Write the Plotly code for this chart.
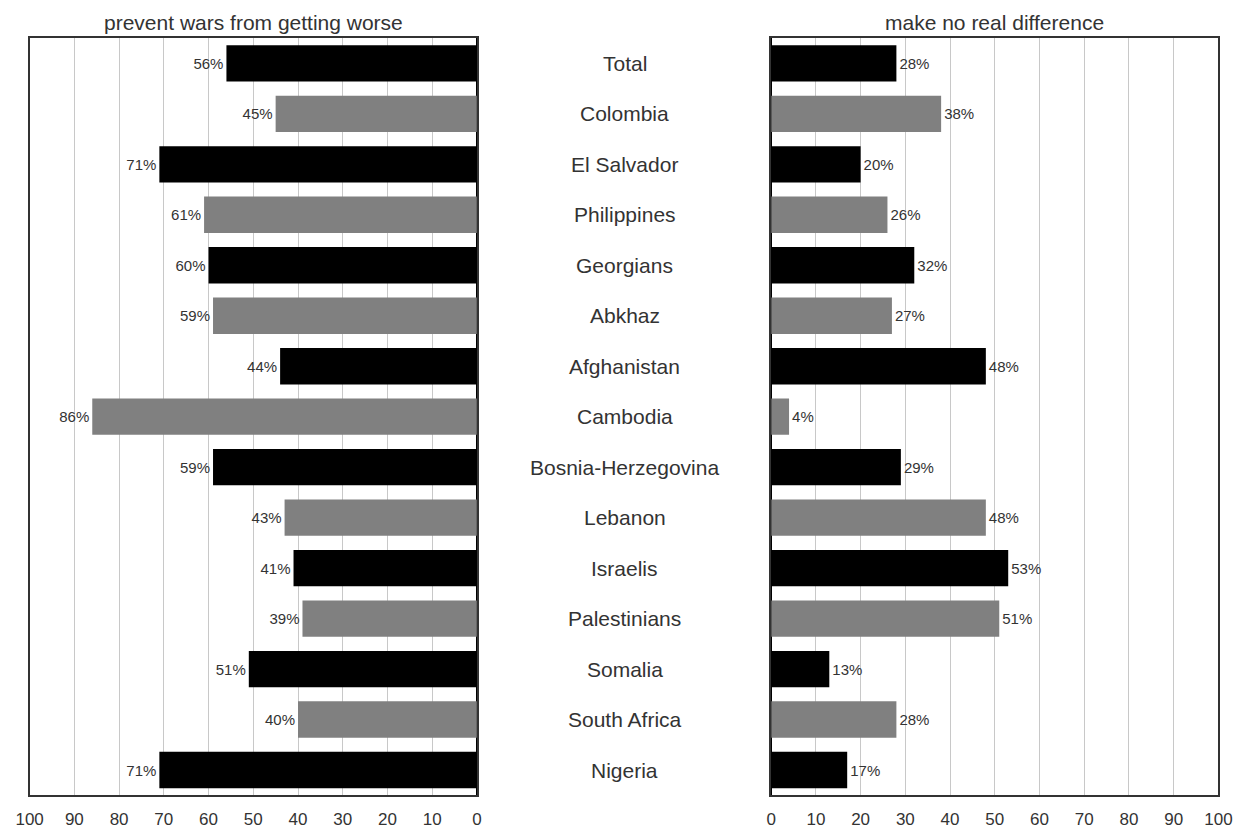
import plotly.graph_objects as go

categories = ["Total", "Colombia", "El Salvador", "Philippines", "Georgians", "Abkhaz",
              "Afghanistan", "Cambodia", "Bosnia-Herzegovina", "Lebanon", "Israelis",
              "Palestinians", "Somalia", "South Africa", "Nigeria"]
prevent_worse = [56, 45, 71, 61, 60, 59, 44, 86, 59, 43, 41, 39, 51, 40, 71]
no_difference = [28, 38, 20, 26, 32, 27, 48, 4, 29, 48, 53, 51, 13, 28, 17]
bar_colors = ["#000000" if i % 2 == 0 else "#808080" for i in range(len(categories))]
tick_vals = [0, 10, 20, 30, 40, 50, 60, 70, 80, 90, 100]
titles = ["prevent wars from getting worse", "make no real difference"]

W, H = 1251, 829
FONT = "Liberation Sans, Arial, sans-serif"

fig = go.Figure()
fig.add_trace(go.Bar(
    y=categories, x=prevent_worse, orientation="h", xaxis="x", yaxis="y",
    marker=dict(color=bar_colors, line=dict(width=0)), width=0.72,
    text=[f"{v}%" for v in prevent_worse], textposition="outside",
    textfont=dict(size=15, color="#333333", family=FONT), cliponaxis=False,
    showlegend=False))
fig.add_trace(go.Bar(
    y=categories, x=no_difference, orientation="h", xaxis="x2", yaxis="y2",
    marker=dict(color=bar_colors, line=dict(width=0)), width=0.72,
    text=[f"{v}%" for v in no_difference], textposition="outside",
    textfont=dict(size=15, color="#333333", family=FONT), cliponaxis=False,
    showlegend=False))

x1d = [16 / W, 473.5 / W]
x2d = [774.5 / W, 1232 / W]
yd = [1 - 803 / H, 1 - 38.5 / H]

axis_common = dict(
    tickvals=tick_vals, showgrid=True, gridcolor="#c8c8c8", gridwidth=1,
    showline=True, linecolor="#333333", linewidth=1.5, mirror=True,
    zeroline=True, zerolinecolor="#000000", zerolinewidth=2,
    ticks="", ticklabelstandoff=8,
    tickfont=dict(size=17, color="#333333", family=FONT), fixedrange=True)

fig.update_layout(
    autosize=True, margin=dict(l=0, r=0, t=0, b=0),
    paper_bgcolor="white", plot_bgcolor="white",
    font=dict(family=FONT, color="#333333"),
    xaxis=dict(domain=x1d, range=[100, 0], **axis_common),
    xaxis2=dict(domain=x2d, range=[0, 100], **axis_common),
    yaxis=dict(domain=yd, anchor="x", range=[14.5, -0.5], showticklabels=False,
               showgrid=False, showline=True, linecolor="#333333", linewidth=1.5,
               mirror=True, ticks="", categoryorder="array", categoryarray=categories,
               fixedrange=True),
    yaxis2=dict(domain=yd, anchor="x2", range=[14.5, -0.5], showticklabels=False,
                showgrid=False, showline=True, linecolor="#333333", linewidth=1.5,
                mirror=True, ticks="", categoryorder="array", categoryarray=categories,
                fixedrange=True),
)

# Category labels in the centre gap
for c in categories:
    fig.add_annotation(x=624.5 / W, xref="paper", y=c, yref="y", text=c, showarrow=False,
                       xanchor="center", yanchor="middle",
                       font=dict(size=21, color="#333333", family=FONT))

# Panel titles
for dom, t in zip([x1d, x2d], titles):
    fig.add_annotation(x=(dom[0] + dom[1]) / 2, xref="paper", y=1 - 22.5 / H, yref="paper",
                       text=t, showarrow=False, xanchor="center", yanchor="middle",
                       font=dict(size=21, color="#333333", family=FONT))

post = """
document.documentElement.style.height='100%';
document.documentElement.style.margin='0';
document.body.style.height='100%';
document.body.style.margin='0';
document.body.style.overflow='hidden';
var gd = document.getElementById('{plot_id}');
gd.style.width='100vw'; gd.style.height='100vh';
Plotly.Plots.resize(gd);
"""
fig.write_html("out.html", default_width="100vw", default_height="100vh",
               config={"displayModeBar": False, "responsive": True},
               post_script=post)
